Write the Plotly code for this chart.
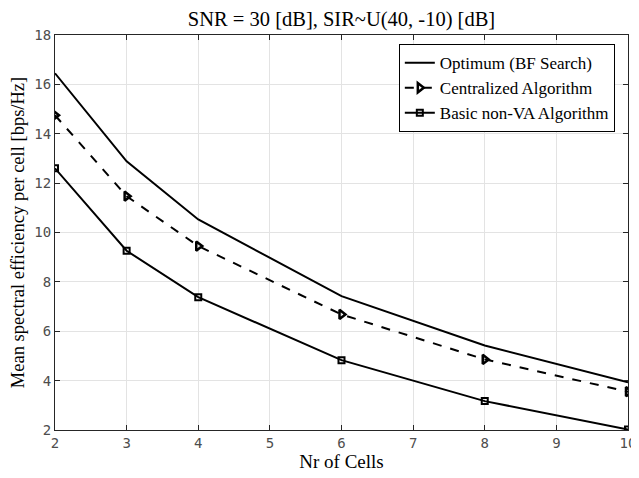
import plotly.graph_objects as go

cells = [2, 3, 4, 6, 8, 10]
optimum = [16.45, 12.88, 10.53, 7.42, 5.42, 3.93]
centralized = [14.75, 11.47, 9.45, 6.68, 4.86, 3.55]
basic = [12.6, 9.26, 7.38, 4.83, 3.17, 2.02]

names = ["Optimum (BF Search)", "Centralized Algorithm", "Basic non-VA Algorithm"]
x_ticks = [2, 3, 4, 5, 6, 7, 8, 9, 10]
y_ticks = [2, 4, 6, 8, 10, 12, 14, 16, 18]

SERIF = "Liberation Serif, Times New Roman, serif"

fig = go.Figure()
fig.add_trace(go.Scatter(x=cells, y=optimum, name=names[0], mode="lines",
                         line=dict(color="black", width=2)))
fig.add_trace(go.Scatter(x=cells, y=centralized, name=names[1], mode="lines+markers",
                         line=dict(color="black", width=2, dash="dash"),
                         marker=dict(symbol="triangle-right-open", size=8, color="black",
                                     line=dict(width=2.5, color="black"))))
fig.add_trace(go.Scatter(x=cells, y=basic, name=names[2], mode="lines+markers",
                         line=dict(color="black", width=2),
                         marker=dict(symbol="square-open", size=6, color="black",
                                     line=dict(width=2, color="black"))))

axis_common = dict(showgrid=True, gridcolor="#e3e3e3", gridwidth=1,
                   showline=True, linecolor="#262626", linewidth=1, mirror="ticks",
                   ticks="inside", ticklen=5, tickcolor="#262626", zeroline=False,
                   automargin=False,
                   tickfont=dict(family="DejaVu Sans Mono, monospace", size=14, color="#4d4d4d"))

W, H = 631, 470
L, R, T, B = 47, 11, 27, 48

fig.update_layout(
    width=W, height=H,
    margin=dict(l=L, r=R, t=T, b=B),
    paper_bgcolor="white", plot_bgcolor="white",
    title=dict(text="SNR = 30 [dB], SIR~U(40, -10) [dB]",
               x=(L + (W - R)) / 2 / W, xanchor="center",
               y=1 - 11 / H, yanchor="middle",
               font=dict(family=SERIF, size=20.5, color="black")),
    xaxis=dict(range=[2, 10], tickvals=x_ticks,
               title=dict(text="Nr of Cells", standoff=3,
                          font=dict(family=SERIF, size=19, color="black")),
               **axis_common),
    yaxis=dict(range=[2, 18], tickvals=y_ticks,
               title=dict(text="Mean spectral efficiency per cell [bps/Hz]", standoff=4,
                          font=dict(family=SERIF, size=18.5, color="black")),
               **axis_common),
    legend=dict(x=0.977, y=0.977, xanchor="right", yanchor="top",
                bgcolor="white", bordercolor="black", borderwidth=1,
                font=dict(family=SERIF, size=17, color="black"),
                itemwidth=30, tracegroupgap=0),
    showlegend=True,
)

fig.write_html("out.html")
